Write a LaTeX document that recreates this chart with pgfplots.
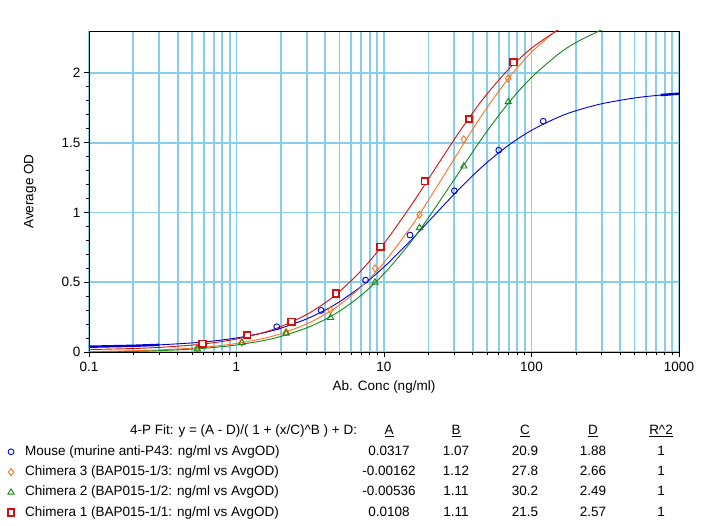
\documentclass[border=0pt]{standalone}
\usepackage{pgfplots}
\pgfplotsset{compat=1.18}
\usepackage{fontspec}
\setmainfont{Liberation Sans}
\definecolor{gridblue}{RGB}{135,206,235}
\definecolor{cblue}{RGB}{0,0,215}
\definecolor{corange}{RGB}{255,115,30}
\definecolor{cgreen}{RGB}{20,135,20}
\definecolor{cred}{RGB}{215,15,15}
\newcommand{\fs}{\fontsize{13.5}{16}\selectfont}
\newcommand{\row}[6]{\makebox[0pt][l]{#1}\hspace{364pt}\makebox[0pt][c]{#2}\hspace{67pt}\makebox[0pt][c]{#3}\hspace{69pt}\makebox[0pt][c]{#4}\hspace{68pt}\makebox[0pt][c]{#5}\hspace{68pt}\makebox[0pt][c]{#6}}
\begin{document}
\begin{tikzpicture}[font=\fs]
\useasboundingbox (-89pt,-174pt) rectangle (617pt,352pt);
\begin{axis}[
  at={(0pt,0pt)}, anchor=south west,
  scale only axis, width=590pt, height=321pt,
  xmode=log, xmin=0.1, xmax=1000, ymin=0, ymax=2.3,
  xtick={0.1,1,10,100,1000}, xticklabels={0.1,1,10,100,1000},
  ytick={0,0.5,1,1.5,2}, yticklabels={0,0.5,1,1.5,2},
  minor y tick num=4,
  /pgf/number format/assume math mode=true,
  xmajorgrids=true, xminorgrids=true, ymajorgrids=true,
  major grid style={gridblue, line width=1.8pt},
  minor grid style={gridblue, line width=1.8pt},
  axis line style={black, line width=0.8pt},
  tick style={black, line width=0.8pt},
  tick align=outside, xtick pos=left, ytick pos=left,
  major tick length=5pt, minor tick length=3pt,
  every tick label/.append style={font=\fs},
  xticklabel style={yshift=-2pt},
  xlabel={Ab. Conc (ng/ml)}, ylabel={Average OD},
  xlabel style={at={(axis description cs:0.5,-0.109)}, anchor=center, font=\fs},
  ylabel style={at={(axis description cs:-0.1,0.5)}, anchor=center, font=\fs},
  legend style={at={(axis description cs:-0.1389,-0.2274)}, anchor=north west,
    draw=none, fill=none, inner sep=0pt, outer sep=0pt, row sep=7.3pt,
    font=\fs, nodes={inner sep=0pt, text height=10pt, text depth=3pt}},
  legend cell align=left,
  legend image code/.code={\path[draw=none,fill=none] (-4pt,0pt) -- (14pt,0pt); \draw[#1] plot coordinates {(0pt,0pt)};},
]
\addlegendimage{empty legend}
\addlegendentry{\makebox[332pt][r]{4-P Fit: y = (A - D)/( 1 + (x/C)\textasciicircum B ) + D:}\hspace{32pt}\makebox[0pt][c]{\underline{A}}\hspace{67pt}\makebox[0pt][c]{\underline{B}}\hspace{69pt}\makebox[0pt][c]{\underline{C}}\hspace{68pt}\makebox[0pt][c]{\underline{D}}\hspace{68pt}\makebox[0pt][c]{\underline{R\textasciicircum 2}}}

% fitted curves
\addplot[cblue, line width=0.9pt, smooth, forget plot] coordinates {(0.1,0.0378)(0.2,0.0444)(0.3,0.0512)(0.5,0.0651)(0.7,0.0792)(1,0.1005)(1.5,0.1358)(2,0.1705)(3,0.2375)(4,0.3009)(5,0.3606)(7,0.4693)(10,0.6092)(15,0.7936)(20,0.9341)(30,1.1324)(40,1.2645)(50,1.3583)(70,1.4821)(100,1.5884)(150,1.6799)(200,1.7286)(300,1.7790)(500,1.8201)(700,1.8378)(1000,1.8510)};
\addplot[cblue, line width=2.4pt, forget plot] coordinates {(0.1,0.0378)(0.2,0.0444)(0.3,0.0512)};
\addplot[cblue, line width=2.4pt, forget plot] coordinates {(750,1.8408)(1000,1.8510)};
\addplot[corange, line width=0.9pt, smooth, forget plot] coordinates {(0.1,0.0032)(0.2,0.0089)(0.3,0.0150)(0.5,0.0276)(0.7,0.0408)(1,0.0611)(1.5,0.0958)(2,0.1311)(3,0.2015)(4,0.2708)(5,0.3383)(7,0.4665)(10,0.6408)(15,0.8868)(20,1.0865)(30,1.3859)(40,1.5967)(50,1.7515)(70,1.9620)(100,2.1476)(150,2.3100)(200,2.3969)};
\addplot[cgreen, line width=0.9pt, smooth, forget plot] coordinates {(0.1,-0.0010)(0.2,0.0041)(0.3,0.0095)(0.5,0.0207)(0.7,0.0323)(1,0.0502)(1.5,0.0807)(2,0.1115)(3,0.1732)(4,0.2339)(5,0.2931)(7,0.4059)(10,0.5604)(15,0.7807)(20,0.9618)(30,1.2377)(40,1.4354)(50,1.5826)(70,1.7856)(100,1.9677)(150,2.1296)(200,2.2174)(300,2.3090)};
\addplot[cred, line width=0.9pt, smooth, forget plot] coordinates {(0.1,0.0174)(0.2,0.0250)(0.3,0.0329)(0.5,0.0496)(0.7,0.0667)(1,0.0930)(1.5,0.1374)(2,0.1819)(3,0.2693)(4,0.3535)(5,0.4339)(7,0.5827)(10,0.7773)(15,1.0381)(20,1.2391)(30,1.5243)(40,1.7146)(50,1.8495)(70,2.0263)(100,2.1768)(150,2.3045)(200,2.3714)};

% measured points
\addplot[only marks, mark=o, mark size=2.9pt, cblue, line width=0.9pt] coordinates {(1.875,0.181)(3.75,0.298)(7.5,0.515)(15,0.838)(30,1.155)(60,1.446)(120,1.654)};
\addlegendentry{\row{Mouse (murine anti-P43: ng/ml vs AvgOD)}{0.0317}{1.07}{20.9}{1.88}{1}}
\addplot[only marks, mark=diamond, mark size=3.6pt, corange, line width=0.9pt] coordinates {(0.543,0.030)(1.086,0.067)(2.17,0.143)(4.34,0.300)(8.69,0.599)(17.4,0.984)(34.75,1.523)(69.5,1.959)};
\addlegendentry{\row{Chimera 3 (BAP015-1/3: ng/ml vs AvgOD)}{-0.00162}{1.12}{27.8}{2.66}{1}}
\addplot[only marks, mark=triangle, mark size=3.6pt, cgreen, line width=0.9pt] coordinates {(0.543,0.021)(1.086,0.067)(2.17,0.134)(4.34,0.246)(8.69,0.499)(17.4,0.890)(34.75,1.331)(69.5,1.792)};
\addlegendentry{\row{Chimera 2 (BAP015-1/2: ng/ml vs AvgOD)}{-0.00536}{1.11}{30.2}{2.49}{1}}
\addplot[only marks, mark=square*, mark size=3.3pt, draw=cred, fill=white, line width=1.8pt] coordinates {(0.59,0.059)(1.18,0.122)(2.36,0.217)(4.72,0.420)(9.44,0.754)(18.9,1.224)(37.7,1.670)(75.5,2.076)};
\addlegendentry{\row{Chimera 1 (BAP015-1/1: ng/ml vs AvgOD)}{0.0108}{1.11}{21.5}{2.57}{1}}
\end{axis}
\end{tikzpicture}
\end{document}
